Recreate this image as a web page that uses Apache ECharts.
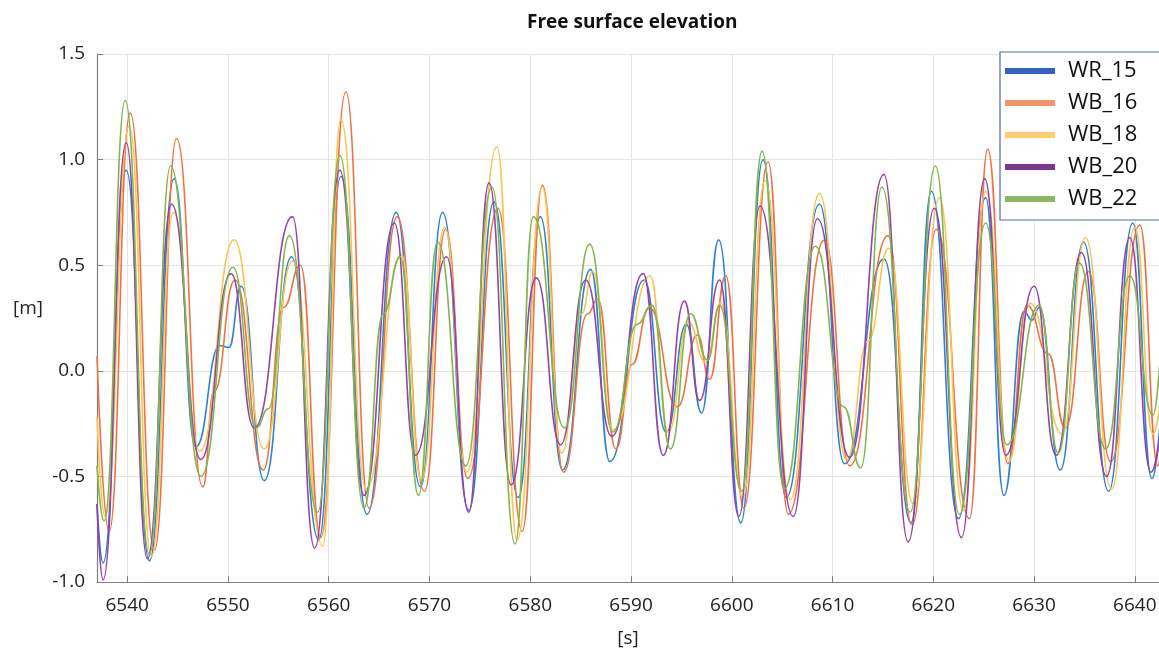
<!DOCTYPE html>
<html>
<head>
<meta charset="utf-8">
<title>Free surface elevation</title>
<script src="https://cdn.jsdelivr.net/npm/echarts@6/dist/echarts.min.js"></script>
<style>
  html, body { margin: 0; padding: 0; background: #fff; }
  #chart { width: 1159px; height: 648px; }
</style>
</head>
<body>
<div id="chart"></div>
<script>
// series names as in the legend
const names = ["WR_15", "WB_16", "WB_18", "WB_20", "WB_22"];

// [time s, elevation m] at crests / troughs / shoulders
const wr15 = [
  [6537.0, -0.63], [6537.6, -0.91], [6539.9, 0.95], [6542.2, -0.90], [6544.65, 0.91],
  [6546.8, -0.36], [6549.2, 0.12], [6550.1, 0.11], [6551.3, 0.40], [6553.6, -0.52],
  [6556.3, 0.54], [6559.0, -0.80], [6561.2, 0.92], [6563.8, -0.68], [6566.7, 0.75],
  [6569.1, -0.55], [6571.3, 0.75], [6573.9, -0.66], [6576.4, 0.80], [6578.8, -0.60],
  [6581.0, 0.73], [6583.2, -0.47], [6586.0, 0.48], [6587.9, -0.43], [6591.3, 0.43],
  [6593.5, -0.29], [6595.5, 0.22], [6597.0, -0.20], [6598.7, 0.62], [6600.9, -0.72],
  [6603.1, 1.00], [6605.4, -0.60], [6608.7, 0.79], [6611.2, -0.44], [6615.1, 0.53],
  [6617.8, -0.72], [6619.8, 0.85], [6622.5, -0.70], [6625.2, 0.82], [6627.0, -0.59],
  [6629.0, 0.28], [6629.8, 0.24], [6630.5, 0.30], [6632.6, -0.47], [6634.9, 0.61],
  [6637.4, -0.57], [6639.8, 0.70], [6641.7, -0.51], [6642.5, -0.25]
];
const wb16 = [
  [6537.0, 0.07], [6538.2, -0.76], [6540.3, 1.22], [6542.7, -0.85], [6544.9, 1.10],
  [6547.5, -0.55], [6548.6, -0.10], [6550.7, 0.43], [6553.5, -0.47], [6555.5, 0.30],
  [6557.2, 0.50], [6559.2, -0.79], [6561.7, 1.32], [6564.0, -0.65], [6566.8, 0.73],
  [6569.5, -0.57], [6571.6, 0.67], [6573.8, -0.51], [6576.8, 0.77], [6579.2, -0.76],
  [6581.2, 0.88], [6583.3, -0.48], [6585.7, 0.27], [6586.7, 0.34], [6588.5, -0.37],
  [6590.1, 0.03], [6591.8, 0.30], [6594.6, -0.17], [6596.6, 0.17], [6597.8, -0.04],
  [6599.4, 0.45], [6601.2, -0.65], [6603.6, 0.99], [6605.6, -0.68], [6609.2, 0.62],
  [6611.7, -0.45], [6615.5, 0.64], [6617.9, -0.73], [6620.3, 0.67], [6623.6, -0.70],
  [6625.4, 1.05], [6627.4, -0.44], [6629.3, 0.31], [6631.4, 0.08], [6633.1, -0.27],
  [6635.4, 0.47], [6637.6, -0.43], [6640.5, 0.69], [6642.3, -0.45], [6642.5, -0.40]
];
const wb18 = [
  [6537.0, -0.22], [6537.8, -0.69], [6540.2, 1.16], [6542.4, -0.88], [6544.6, 0.75],
  [6547.2, -0.38], [6550.6, 0.62], [6553.6, -0.37], [6556.4, 0.52], [6559.4, -0.83],
  [6561.2, 1.19], [6563.7, -0.56], [6567.2, 0.55], [6569.2, -0.52], [6571.5, 0.68],
  [6573.7, -0.48], [6576.7, 1.06], [6578.7, -0.80], [6581.2, 0.87], [6583.1, -0.39],
  [6585.1, 0.27], [6586.2, 0.47], [6588.2, -0.28], [6591.9, 0.45], [6593.7, -0.29],
  [6595.7, 0.23], [6597.4, 0.04], [6598.9, 0.32], [6601.1, -0.60], [6603.3, 0.90],
  [6605.8, -0.61], [6608.7, 0.84], [6611.4, -0.42], [6613.5, 0.14], [6615.6, 0.58],
  [6618.0, -0.63], [6620.6, 0.82], [6623.0, -0.66], [6625.2, 0.85], [6627.5, -0.43],
  [6629.6, 0.32], [6632.8, -0.30], [6635.1, 0.63], [6637.7, -0.56], [6640.0, 0.68],
  [6641.8, -0.30], [6642.5, -0.15]
];
const wb20 = [
  [6537.0, -0.63], [6537.6, -0.99], [6539.9, 1.08], [6542.0, -0.89], [6544.4, 0.79],
  [6547.3, -0.42], [6550.3, 0.46], [6552.6, -0.27], [6556.4, 0.73], [6558.6, -0.84],
  [6561.1, 0.95], [6563.5, -0.59], [6566.5, 0.70], [6568.6, -0.40], [6571.7, 0.54],
  [6573.9, -0.67], [6575.9, 0.89], [6578.1, -0.54], [6580.6, 0.44], [6583.0, -0.35],
  [6585.5, 0.43], [6588.1, -0.31], [6591.2, 0.46], [6593.2, -0.40], [6595.3, 0.33],
  [6596.8, -0.14], [6598.8, 0.43], [6600.7, -0.69], [6602.8, 0.78], [6606.1, -0.69],
  [6608.5, 0.72], [6611.7, -0.41], [6615.1, 0.93], [6617.5, -0.81], [6620.1, 0.77],
  [6622.8, -0.79], [6625.1, 0.91], [6627.2, -0.40], [6630.0, 0.40], [6632.2, -0.40],
  [6634.7, 0.56], [6637.2, -0.50], [6639.5, 0.63], [6641.6, -0.48], [6642.5, -0.30]
];
const wb22 = [
  [6537.0, -0.45], [6537.7, -0.71], [6539.8, 1.28], [6542.2, -0.87], [6544.3, 0.97],
  [6547.3, -0.50], [6550.5, 0.49], [6552.8, -0.27], [6554.0, -0.18], [6556.1, 0.64],
  [6558.9, -0.67], [6561.1, 1.02], [6563.5, -0.65], [6565.4, 0.27], [6567.1, 0.54],
  [6568.9, -0.59], [6570.8, 0.61], [6573.6, -0.45], [6576.2, 0.87], [6578.5, -0.82],
  [6580.3, 0.73], [6583.4, -0.27], [6585.9, 0.60], [6588.2, -0.29], [6590.6, 0.22],
  [6592.1, 0.31], [6593.9, -0.37], [6595.9, 0.27], [6597.6, 0.05], [6598.8, 0.31],
  [6601.0, -0.57], [6603.0, 1.04], [6605.2, -0.56], [6608.3, 0.59], [6611.1, -0.17],
  [6612.8, -0.46], [6614.9, 0.87], [6617.7, -0.67], [6620.2, 0.97], [6622.6, -0.68],
  [6625.2, 0.70], [6627.3, -0.35], [6630.5, 0.31], [6632.4, -0.39], [6634.5, 0.51],
  [6637.1, -0.37], [6639.5, 0.45], [6641.8, -0.21], [6642.5, 0.05]
];
const seriesData = [wr15, wb16, wb18, wb20, wb22];

const lineColors = ["#2b82d2", "#ee7344", "#fcc452", "#9443aa", "#80b64a"];
const legendColors = ["#3462c2", "#f2956a", "#fdcd6e", "#7e3591", "#8cb863"];

const font = "'Open Sans', 'DejaVu Sans', sans-serif";

let myChart = echarts.init(document.getElementById("chart"));

let option = {
  animation: false,
  backgroundColor: "#ffffff",
  title: {
    text: "Free surface elevation",
    left: 522,
    top: 8,
    textStyle: { fontFamily: font, fontSize: 19, fontWeight: "bold", color: "#111" }
  },
  grid: { left: 97, right: 0, top: 54, bottom: 66, outerBoundsMode: "none" },
  legend: {
    data: names,
    orient: "vertical",
    left: 1000,
    top: 52,
    padding: [8, 80, 10, 5],
    itemGap: 10,
    itemWidth: 50,
    itemHeight: 6,
    icon: "rect",
    backgroundColor: "#fff",
    borderColor: "#4d6ca9",
    borderWidth: 1.2,
    borderRadius: 0,
    textStyle: {
      fontFamily: font,
      fontSize: 22,
      lineHeight: 20,
      color: "#111",
      padding: [0, 0, 0, 8]
    }
  },
  xAxis: {
    type: "value",
    min: 6537,
    max: 6642.4,
    splitNumber: 10,
    name: "[s]",
    nameLocation: "middle",
    nameGap: 47,
    nameTextStyle: { fontFamily: font, fontSize: 19, color: "#222" },
    axisLine: { show: true, onZero: false, lineStyle: { color: "#7f7f7f", width: 1.2 } },
    axisTick: { show: true, inside: true, length: 6, lineStyle: { color: "#7f7f7f" } },
    axisLabel: {
      showMinLabel: false,
      showMaxLabel: false,
      margin: 14,
      fontFamily: font,
      fontSize: 19,
      color: "#222",
      formatter: v => String(v)
    },
    splitLine: { show: true, lineStyle: { color: "#e4e4e4", width: 1 } }
  },
  yAxis: {
    type: "value",
    min: -1,
    max: 1.5,
    interval: 0.5,
    name: "[m]",
    nameLocation: "middle",
    nameRotate: 0,
    nameGap: 54,
    nameTextStyle: { fontFamily: font, fontSize: 19, color: "#222", verticalAlign: "bottom" },
    axisLine: { show: true, onZero: false, lineStyle: { color: "#7f7f7f", width: 1.2 } },
    axisTick: { show: true, inside: true, length: 6, lineStyle: { color: "#7f7f7f" } },
    axisLabel: {
      margin: 12,
      fontFamily: font,
      fontSize: 19,
      color: "#222",
      formatter: v => v.toFixed(1)
    },
    splitLine: { show: true, lineStyle: { color: "#e4e4e4", width: 1 } }
  },
  series: names.map((n, i) => ({
    name: n,
    type: "line",
    data: seriesData[i],
    showSymbol: false,
    smooth: 0.5,
    smoothMonotone: "x",
    itemStyle: { color: legendColors[i] },
    lineStyle: { color: lineColors[i], width: 1.6 },
    emphasis: { disabled: true }
  }))
};

myChart.setOption(option);
</script>
</body>
</html>
